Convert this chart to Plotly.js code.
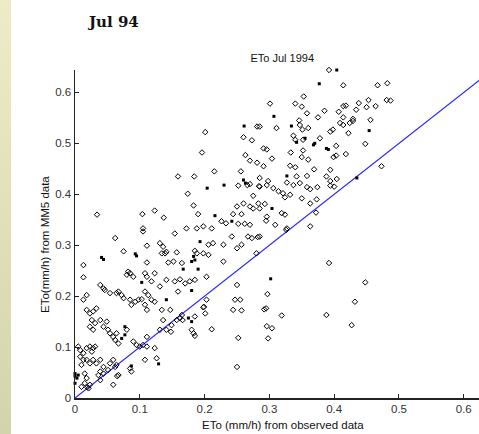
<!DOCTYPE html>
<html>
<head>
<meta charset="utf-8">
<script src="https://cdn.plot.ly/plotly-3.0.1.min.js"></script>
<style>
  html, body { margin: 0; padding: 0; background: #ffffff; }
  #wrap { position: relative; width: 479px; height: 434px; overflow: hidden; }
  #strip { position: absolute; left: 0; top: 0; width: 11px; height: 434px;
           background: linear-gradient(to bottom, #eeecc6, #d4d4aa); z-index: 5; }
  #chart { position: absolute; left: 0; top: 0; width: 479px; height: 434px; }
</style>
</head>
<body>
<div id="wrap"><div id="strip"></div><div id="chart"></div></div>
<script>
// Observed ETo (x) vs MM5 ETo (y), mm/h, July 1994 — open diamond markers
const obsOpen = [
0.034,0.104,0.123,0.137,0.159,0.184,0.174,0.183,0.190,0.196,0.201,0.215,0.252,0.256,0.260,0.273,0.263,0.270,0.281,0.266,
0.270,0.275,0.284,0.283,0.250,0.260,0.270,0.275,0.244,0.257,0.226,0.233,0.252,0.262,0.270,0.172,0.188,0.198,0.211,0.105,
0.281,
0.392,0.414,0.467,0.482,0.353,0.301,0.340,0.350,0.481,0.487,0.438,0.453,0.418,0.414,0.434,0.450,0.464,0.358,0.385,0.407,
0.375,0.414,0.429,0.456,0.346,0.409,0.414,0.424,0.429,0.285,0.311,0.347,0.351,0.360,0.394,0.398,0.422,0.337,0.340,0.352,
0.378,0.403,0.448,0.291,0.296,0.333,0.352,0.399,0.403,0.418,0.304,0.350,0.360,0.291,0.332,0.340,0.369,0.394,0.473,0.342,
0.358,0.388,0.394,0.404,0.285,0.298,0.296,0.285,0.306,0.314,0.321,0.327,0.337,0.347,0.358,0.363,0.374,0.394,0.400,0.332,
0.324,0.350,0.373,0.363,0.293,0.285,0.296,0.319,0.324,0.309,0.327,0.363,0.372,
0.062,0.105,0.154,0.131,0.136,0.141,0.134,0.139,0.111,0.206,0.213,0.229,0.242,0.250,0.257,0.267,0.273,0.280,0.157,0.075,
0.185,0.188,0.198,0.206,0.111,0.144,0.152,0.165,0.013,0.229,0.013,0.082,0.085,0.080,0.108,0.111,0.090,0.123,0.141,0.118,
0.131,0.154,0.162,0.170,0.177,0.185,0.203,0.250,0.039,0.044,0.046,0.018,0.054,0.064,0.067,0.072,0.075,0.085,0.087,0.093,
0.098,0.103,0.108,0.113,0.108,0.118,0.123,0.111,0.134,0.147,0.157,0.165,0.185,0.159,0.198,0.201,0.203,0.247,0.255,0.244,
0.257,0.211,0.180,0.183,0.185,0.252,0.250,0.013,0.018,0.023,0.028,0.033,0.026,0.031,0.023,0.028,0.039,0.044,0.049,0.051,
0.054,0.059,0.064,0.062,0.067,0.080,0.090,0.095,0.100,0.105,0.111,0.111,0.123,0.131,0.141,0.108,0.126,0.085,0.087,0.059,
0.067,0.059,0.054,0.062,0.064,0.044,0.039,0.044,0.005,0.008,0.013,0.018,0.023,0.026,0.028,0.031,0.008,0.013,0.010,0.018,
0.023,0.028,0.033,0.039,0.015,0.018,0.023,0.021,0.036,0.039,0.051,0.065,0.010,0.015,0.019,0.282,
0.295,0.326,0.392,0.448,0.297,0.432,0.292,0.295,0.319,0.388,0.427,0.296,0.304,0.298,0.285,
0.199,0.162,0.166,0.149,0.148,0.136
];
const mm5Open = [
0.360,0.361,0.368,0.354,0.435,0.435,0.401,0.378,0.361,0.482,0.522,0.445,0.417,0.445,0.512,0.506,0.477,0.466,0.462,0.418,
0.420,0.397,0.416,0.382,0.376,0.382,0.376,0.372,0.361,0.361,0.347,0.343,0.342,0.342,0.340,0.333,0.333,0.337,0.333,0.333,
0.533,
0.644,0.614,0.614,0.618,0.592,0.578,0.578,0.572,0.585,0.584,0.579,0.585,0.574,0.573,0.566,0.571,0.573,0.559,0.564,0.562,
0.551,0.551,0.548,0.546,0.545,0.540,0.536,0.540,0.544,0.533,0.530,0.536,0.527,0.530,0.523,0.527,0.520,0.515,0.507,0.507,
0.510,0.495,0.499,0.490,0.488,0.482,0.486,0.473,0.476,0.479,0.470,0.473,0.468,0.455,0.456,0.453,0.449,0.448,0.455,0.435,
0.436,0.435,0.426,0.430,0.432,0.426,0.418,0.415,0.412,0.406,0.402,0.423,0.418,0.422,0.414,0.410,0.414,0.417,0.415,0.399,
0.394,0.392,0.390,0.382,0.381,0.372,0.356,0.363,0.360,0.340,0.333,0.337,0.364,
0.314,0.327,0.323,0.304,0.297,0.287,0.284,0.284,0.299,0.301,0.304,0.301,0.317,0.294,0.301,0.317,0.314,0.284,0.286,0.288,
0.289,0.284,0.284,0.281,0.266,0.266,0.268,0.265,0.261,0.268,0.237,0.248,0.245,0.242,0.245,0.238,0.238,0.245,0.232,0.229,
0.219,0.229,0.233,0.225,0.229,0.232,0.238,0.222,0.222,0.215,0.212,0.202,0.206,0.206,0.209,0.202,0.196,0.193,0.183,0.189,
0.193,0.194,0.209,0.202,0.183,0.193,0.189,0.173,0.173,0.173,0.153,0.163,0.160,0.209,0.178,0.166,0.193,0.193,0.193,0.173,
0.172,0.135,0.134,0.127,0.122,0.118,0.061,0.193,0.173,0.166,0.170,0.176,0.153,0.147,0.140,0.134,0.153,0.140,0.150,0.134,
0.127,0.120,0.127,0.114,0.107,0.134,0.111,0.104,0.101,0.104,0.101,0.120,0.098,0.134,0.134,0.075,0.078,0.058,0.052,0.026,
0.045,0.075,0.068,0.061,0.065,0.061,0.052,0.048,0.101,0.094,0.088,0.098,0.101,0.091,0.098,0.101,0.081,0.075,0.065,0.075,
0.068,0.075,0.068,0.075,0.048,0.039,0.026,0.019,0.045,0.035,0.055,0.043,0.022,0.029,0.021,0.316,
0.348,0.330,0.265,0.227,0.204,0.189,0.174,0.176,0.162,0.163,0.143,0.141,0.137,0.117,0.317,
0.179,0.157,0.153,0.143,0.130,0.153
];
// Points that render as solid dots (overlapping markers)
const obsFilled = [
0.204,0.216,0.230,0.261,0.260,0.263,0.242,
0.404,0.377,0.307,0.334,0.454,0.355,0.342,0.370,0.368,0.388,0.391,0.327,0.435,0.304,
0.193,0.041,0.044,0.093,0.095,0.183,0.185,0.180,0.167,0.190,0.103,0.141,0.175,0.180,0.180,0.077,0.077,0.072,0.129,0.087,
0.000,0.003,0.000,0.005,0.000,0.302
];
const mm5Filled = [
0.412,0.358,0.418,0.534,0.428,0.422,0.347,
0.644,0.617,0.553,0.534,0.525,0.510,0.502,0.500,0.497,0.490,0.488,0.436,0.432,0.372,
0.307,0.276,0.272,0.283,0.279,0.278,0.271,0.268,0.253,0.253,0.227,0.193,0.157,0.150,0.211,0.140,0.124,0.117,0.067,0.063,
0.048,0.039,0.029,0.045,0.043,0.234
];
// 1:1 reference line
const lineX = [0, 0.7];
const lineY = [0, 0.7];
const xTicks = [0, 0.1, 0.2, 0.3, 0.4, 0.5, 0.6];
const yTicks = [0, 0.1, 0.2, 0.3, 0.4, 0.5, 0.6];
const tickText = ['0', '0.1', '0.2', '0.3', '0.4', '0.5', '0.6'];

const FONT = 'Liberation Sans, Arial, sans-serif';

const traces = [
  { x: lineX, y: lineY, type: 'scatter', mode: 'lines', hoverinfo: 'skip',
    line: { color: '#2828ff', width: 1.2 } },
  { x: obsOpen, y: mm5Open, type: 'scatter', mode: 'markers', hoverinfo: 'x+y', cliponaxis: false,
    marker: { symbol: 'diamond-open', size: 4.2, color: '#000000', line: { width: 1, color: '#000000' } } },
  { x: obsFilled, y: mm5Filled, type: 'scatter', mode: 'markers', hoverinfo: 'x+y', cliponaxis: false,
    marker: { symbol: 'square', size: 3, color: '#000000' } }
];

const axisCommon = {
  showgrid: false, zeroline: false, showline: true, linecolor: '#222222', linewidth: 1.5,
  ticks: 'inside', ticklen: 4, tickwidth: 1, tickcolor: '#222222',
  tickfont: { family: FONT, size: 11.5, color: '#333333' }, tickmode: 'array', fixedrange: true
};

const layout = {
  width: 479, height: 434,
  margin: { l: 75, r: 0, t: 70, b: 36 },
  paper_bgcolor: '#ffffff', plot_bgcolor: '#ffffff',
  showlegend: false,
  title: { text: 'ETo Jul 1994', font: { family: FONT, size: 11, color: '#111111' },
           xref: 'paper', yref: 'container', x: 0.513, y: 0.866, xanchor: 'center', yanchor: 'middle',
           pad: { t: 0, b: 0, l: 0, r: 0 } },
  xaxis: Object.assign({}, axisCommon, { range: [0, 0.6235], tickvals: xTicks, ticktext: tickText }),
  yaxis: Object.assign({}, axisCommon, { range: [0, 0.644], tickvals: yTicks, ticktext: tickText }),
  annotations: [
    { text: '<b>Jul 94</b>', xref: 'paper', yref: 'paper', x: 0.094, y: 1.146,
      xanchor: 'center', yanchor: 'middle', showarrow: false,
      font: { family: 'DejaVu Serif, serif', size: 15, color: '#111111' } },
    { text: 'ETo (mm/h) from observed data', xref: 'paper', yref: 'paper', x: 0.515, y: -0.082,
      xanchor: 'center', yanchor: 'middle', showarrow: false,
      font: { family: FONT, size: 11.5, color: '#111111' } },
    { text: 'ETo(mm/h) from MM5 data', xref: 'paper', yref: 'paper', x: -0.0743, y: 0.4695,
      xanchor: 'center', yanchor: 'middle', showarrow: false, textangle: -90,
      font: { family: FONT, size: 11.5, color: '#111111' } }
  ]
};

Plotly.newPlot('chart', traces, layout, { displayModeBar: false, staticPlot: true });
</script>
</body>
</html>
